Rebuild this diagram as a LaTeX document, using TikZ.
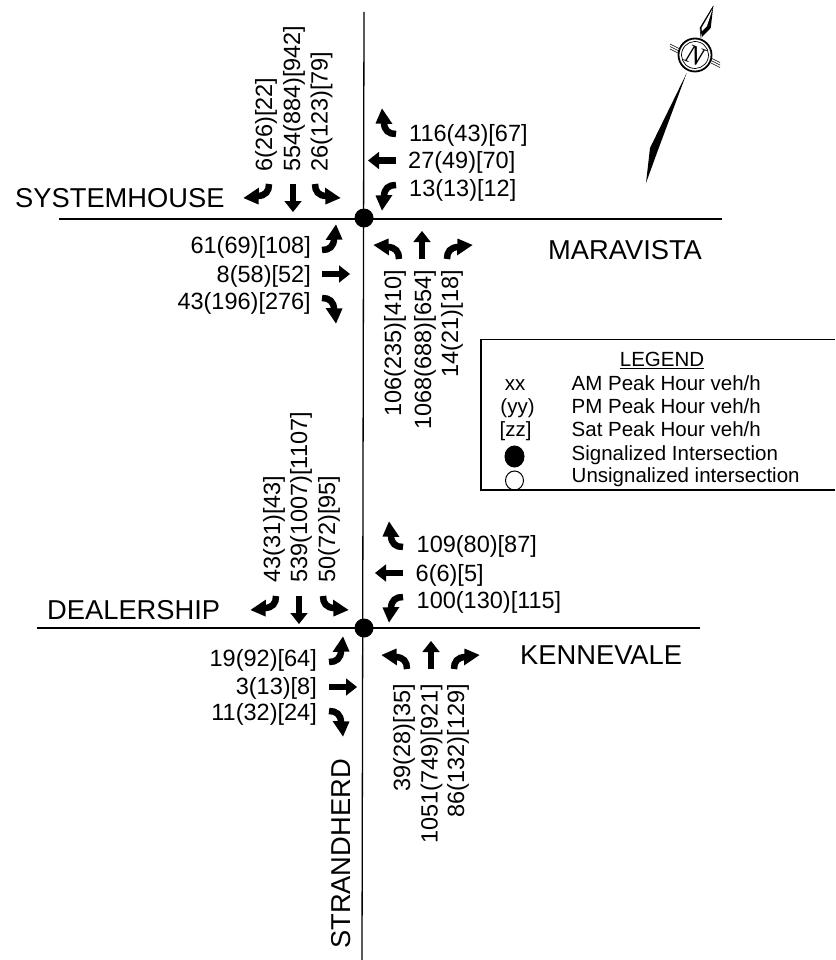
\documentclass[tikz,border=0pt]{standalone}
\usepackage{fontspec}
\usetikzlibrary{shapes.geometric}
\setmainfont{Liberation Sans}
\newfontfamily\compassfont{Liberation Serif}
\newcommand{\turnarrow}[4]{%
  \begin{scope}[shift={(#1,#2)},rotate=#3,yscale=#4]
    \draw[line width=6.5pt] (0,0) .. controls (-7,0) and (-12,-3) .. (-12,-12);
    \fill (-3.5,-10) -- (-20.5,-10.5) -- (-14,-25.5) -- cycle;
  \end{scope}}
\newcommand{\straightarrow}[3]{%
  \begin{scope}[shift={(#1,#2)},rotate=#3]
    \draw[line width=6.5pt] (0,0) -- (-18,0);
    \fill (-17,-8.7) -- (-17,8.7) -- (-28,0) -- cycle;
  \end{scope}}
\tikzset{
  road/.style={line width=1.3pt},
  vol/.style={font=\fontsize{23.5}{23.5}\selectfont,inner sep=0pt},
  street/.style={font=\fontsize{27.3}{27.3}\selectfont,inner sep=0pt},
  leg/.style={font=\fontsize{20.5}{20.5}\selectfont,inner sep=0pt,anchor=base west},
  legc/.style={font=\fontsize{20.5}{20.5}\selectfont,inner sep=0pt,anchor=base},
}
\begin{document}
\begin{tikzpicture}[x=1pt,y=-1pt]
\useasboundingbox (0,0) rectangle (835,960);
\coordinate (rn) at (364,12);
\coordinate (rs) at (362,960);
\coordinate (w1) at (59,219);
\coordinate (e1) at (722,219);
\coordinate (w2) at (37,628);
\coordinate (e2) at (700,628);
\draw[road] (rn) -- (rs);
\draw[road] (w1) -- (e1);
\draw[road] (w2) -- (e2);
\node[circle,fill=black,minimum size=19pt,inner sep=0pt] (int1) at (364,218) {};
\node[circle,fill=black,minimum size=19pt,inner sep=0pt] (int2) at (364,628) {};
% top intersection arrows
\turnarrow{396}{134}{0}{1}
\straightarrow{396}{160.5}{0}
\turnarrow{396}{185}{0}{-1}
\turnarrow{269}{184}{90}{1}
\straightarrow{293}{184}{90}
\turnarrow{315}{184}{90}{-1}
\turnarrow{322}{250}{180}{-1}
\straightarrow{322}{274}{180}
\turnarrow{322}{298}{180}{1}
\turnarrow{399}{259}{-90}{-1}
\straightarrow{422}{259}{-90}
\turnarrow{447}{259}{-90}{1}
% bottom intersection arrows
\turnarrow{403}{547}{0}{1}
\straightarrow{403}{573}{0}
\turnarrow{403}{597}{0}{-1}
\turnarrow{276}{596}{90}{1}
\straightarrow{299}{596}{90}
\turnarrow{323}{596}{90}{-1}
\turnarrow{329}{662}{180}{-1}
\straightarrow{329}{687}{180}
\turnarrow{329}{711}{180}{1}
\turnarrow{407}{669}{-90}{-1}
\straightarrow{431}{669}{-90}
\turnarrow{454}{669}{-90}{1}
% top labels
\node[vol,anchor=west] (a1) at (409,135) {116(43)[67]};
\node[vol,anchor=west] (a2) at (408,162) {27(49)[70]};
\node[vol,anchor=west] (a3) at (409,190) {13(13)[12]};
\node[vol,anchor=east] (a4) at (311,247) {61(69)[108]};
\node[vol,anchor=east] (a5) at (311,276) {8(58)[52]};
\node[vol,anchor=east] (a6) at (311,303) {43(196)[276]};
\node[vol,rotate=90,anchor=west] (a7) at (266,172) {6(26)[22]};
\node[vol,rotate=90,anchor=west] (a8) at (294,172) {554(884)[942]};
\node[vol,rotate=90,anchor=west] (a9) at (321.5,172) {26(123)[79]};
\node[vol,rotate=90,anchor=east] (a10) at (395,270) {106(235)[410]};
\node[vol,rotate=90,anchor=east] (a11) at (425,270) {1068(688)[654]};
\node[vol,rotate=90,anchor=east] (a12) at (452,270) {14(21)[18]};
% bottom labels
\node[vol,anchor=west] (b1) at (416.5,546.5) {109(80)[87]};
\node[vol,anchor=west] (b2) at (415.5,575) {6(6)[5]};
\node[vol,anchor=west] (b3) at (416.5,602) {100(130)[115]};
\node[vol,anchor=east] (b4) at (317,660.5) {19(92)[64]};
\node[vol,anchor=east] (b5) at (317,688.5) {3(13)[8]};
\node[vol,anchor=east] (b6) at (317,714.5) {11(32)[24]};
\node[vol,rotate=90,anchor=west] (b7) at (274,583) {43(31)[43]};
\node[vol,rotate=90,anchor=west] (b8) at (301,583) {539(1007)[1107]};
\node[vol,rotate=90,anchor=west] (b9) at (329,583) {50(72)[95]};
\node[vol,rotate=90,anchor=east] (b10) at (404,684) {39(28)[35]};
\node[vol,rotate=90,anchor=east] (b11) at (431.5,684) {1051(749)[921]};
\node[vol,rotate=90,anchor=east] (b12) at (458,684) {86(132)[129]};
% streets
\node[street,anchor=west] (s1) at (15,198) {SYSTEMHOUSE};
\node[street,anchor=west] (s2) at (548,250) {MARAVISTA};
\node[street,anchor=west] (s3) at (47,610) {DEALERSHIP};
\node[street,anchor=west] (s4) at (520,655) {KENNEVALE};
\node[street,rotate=90,anchor=west] (s5) at (341,949) {STRANDHERD};
% legend
\draw[line width=1.2pt] (835,339.5) -- (481,339.5) -- (481,490) -- (835,490);
\node[legc] (l0) at (662,366.5) {\underline{LEGEND}};
\node[legc] (l1) at (515,390) {xx};
\node[legc] (l2) at (517.5,413) {(yy)};
\node[legc] (l3) at (515.5,436.5) {[zz]};
\node[leg] (l4) at (571.5,390) {AM Peak Hour veh/h};
\node[leg] (l5) at (571.5,413) {PM Peak Hour veh/h};
\node[leg] (l6) at (571.5,436.5) {Sat Peak Hour veh/h};
\node[leg] (l7) at (571.5,460) {Signalized Intersection};
\node[leg] (l8) at (571.5,482.5) {Unsignalized intersection};
\node[ellipse,fill=black,draw=black,line width=1pt,minimum width=19pt,minimum height=21pt,inner sep=0pt] (l9) at (514.5,456.5) {};
\node[ellipse,draw=black,line width=1pt,minimum width=18pt,minimum height=19pt,inner sep=0pt] (l10) at (514.5,480.5) {};
% north arrow
\fill (686.7,73) -- (650,148) -- (646,183) -- (658,150) -- cycle;
\fill (713.3,6) -- (700,28) -- (702,37) -- (710.7,28) -- cycle;
\fill[white] (712.5,9) -- (701.5,28) -- (702,31) -- (707,26) -- cycle;
\draw[line width=0.6pt] (713.3,6) -- (700,28) -- (701,38);
\draw[line width=0.6pt] (670,44) -- (679,48.5) (670,46.5) -- (679,51) (670,49) -- (679,53.5);
\draw[line width=0.6pt] (711,58) -- (720,62.5) (711,60.5) -- (720,65) (711,63) -- (720,67.5);
\node[circle,draw,line width=1.8pt,fill=white,minimum size=33pt,inner sep=0pt] (nc) at (695,55) {};
\node[circle,draw,line width=0.7pt,minimum size=27pt,inner sep=0pt,rotate=-21,font=\compassfont\itshape\fontsize{27}{27}\selectfont] (nn) at (695,55) {N};
\end{tikzpicture}
\end{document}
